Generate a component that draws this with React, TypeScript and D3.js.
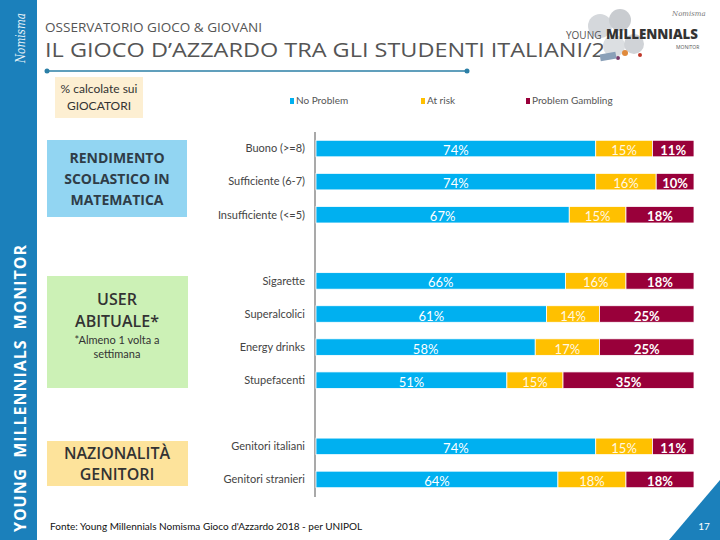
import React from "react";
import * as d3 from "d3";

const categories = [
  "Buono (>=8)",
  "Sufficiente (6-7)",
  "Insufficiente (<=5)",
  "_gap1",
  "Sigarette",
  "Superalcolici",
  "Energy drinks",
  "Stupefacenti",
  "_gap2",
  "Genitori italiani",
  "Genitori stranieri",
];
const noProblem = [74, 74, 67, 0, 66, 61, 58, 51, 0, 74, 64];
const atRisk = [15, 16, 15, 0, 16, 14, 17, 15, 0, 15, 18];
const problemGambling = [11, 10, 18, 0, 18, 25, 25, 35, 0, 11, 18];
const seriesNames = ["No Problem", "At risk", "Problem Gambling"];
const seriesColors = ["#00b0f0", "#ffc000", "#99003a"];

const W = 720;
const H = 540;
const FONT = "Lato, 'Open Sans', sans-serif";

export default function App() {
  const rows = categories.map((c, i) => ({
    cat: c,
    np: noProblem[i],
    ar: atRisk[i],
    pg: problemGambling[i],
  }));
  const keys = ["np", "ar", "pg"];
  const stack = d3.stack<any>().keys(keys).offset(d3.stackOffsetExpand);
  const stacked = stack(rows.filter((r) => !r.cat.startsWith("_")));

  const y = d3
    .scaleBand<string>()
    .domain(categories)
    .range([132, 496])
    .paddingInner(0.5)
    .paddingOuter(0.25);
  const x = d3.scaleLinear().domain([0, 1]).range([316, 694]);

  return (
    <svg
      width={W}
      height={H}
      style={{ position: "absolute", left: 0, top: 0, background: "#fff" }}
      fontFamily={FONT}
    >
      <rect x={0} y={0} width={W} height={H} fill="#fff" />
      {/* Sidebar */}
      <rect x={0} y={0} width={37} height={H} fill="#1b80bb" />
      <text
        transform="translate(26,532) rotate(-90)"
        fill="#fff"
        fontWeight={700}
        fontSize={16}
        textLength={287}
        lengthAdjust="spacing"
        fontFamily="'Open Sans', sans-serif"
      >
        {"YOUNG\u00a0\u00a0MILLENNIALS\u00a0\u00a0MONITOR"}
      </text>
      <text
        transform="translate(25,63) rotate(-90)"
        fill="#fff"
        fontStyle="italic"
        fontSize={13}
        fontFamily="'DejaVu Serif', serif"
        textLength={50}
        lengthAdjust="spacingAndGlyphs"
        opacity={0.9}
      >
        Nomisma
      </text>

      {/* Header */}
      <text x={45} y={32} fontSize={13} fill="#555" fontFamily="'Open Sans', sans-serif" textLength={217} lengthAdjust="spacingAndGlyphs">
        OSSERVATORIO GIOCO &amp; GIOVANI
      </text>
      <text
        x={45}
        y={57}
        fontSize={20}
        fill="#555"
        fontFamily="'Open Sans', sans-serif"
        textLength={560}
        lengthAdjust="spacingAndGlyphs"
      >
        IL GIOCO D’AZZARDO TRA GLI STUDENTI ITALIANI/2
      </text>
      <line x1={47} x2={467} y1={71} y2={71} stroke="#2b7fa6" strokeWidth={1.5} />
      <circle cx={47} cy={71} r={2.5} fill="#2b7fa6" />
      <circle cx={467} cy={71} r={2.5} fill="#2b7fa6" />

      {/* Logo */}
      <g>
        <circle cx={600} cy={26} r={12} fill="#d5d8dc" />
        <circle cx={620} cy={20} r={11} fill="#c9ccd0" />
        <circle cx={614} cy={46} r={11} fill="#dcdfe2" />
        <circle cx={634} cy={44} r={10} fill="#d0d3d7" />
        <circle cx={625} cy={53} r={3} fill="#e08a3c" />
        <circle cx={618} cy={58} r={2} fill="#7a3a6a" />
        <circle cx={640} cy={55} r={2} fill="#c0392b" />
        <rect x={600} y={53} width={16} height={7} fill="#8aa0b8" transform="rotate(-10 608 56)" />
        <text x={566} y={39} fontSize={10} fill="#555" fontFamily="'Open Sans', sans-serif">YOUNG</text>
        <text x={606} y={39} fontSize={14} fontWeight={800} fill="#333" fontFamily="'Open Sans', sans-serif" textLength={92} lengthAdjust="spacingAndGlyphs">MILLENNIALS</text>
        <text x={676} y={49} fontSize={5} fill="#555" fontFamily="'Open Sans', sans-serif">MONITOR</text>
        <text x={672} y={16} fontSize={7} fill="#777" fontStyle="italic" fontFamily="'DejaVu Serif', serif">Nomisma</text>
      </g>

      {/* % calcolate box */}
      <rect x={55} y={77} width={88} height={41} fill="#fdefd2" />
      <text x={99} y={93} textAnchor="middle" fontSize={12} fill="#333" fontFamily={FONT}>% calcolate sui</text>
      <text x={99} y={110} textAnchor="middle" fontSize={12} fill="#333" fontFamily={FONT}>GIOCATORI</text>

      {/* Legend */}
      {seriesNames.map((n, i) => {
        const lx = [290, 421, 526][i];
        return (
          <g key={n}>
            <rect x={lx} y={98} width={4} height={6} fill={seriesColors[i]} />
            <text x={lx + 6} y={104} fontSize={10} fill="#555" fontFamily={FONT}>
              {n}
            </text>
          </g>
        );
      })}

      {/* Left boxes */}
      <rect x={47} y={140} width={140} height={77} fill="#92d5f2" />
      {["RENDIMENTO", "SCOLASTICO IN", "MATEMATICA"].map((t, i) => (
        <text key={t} x={117} y={163 + i * 21} textAnchor="middle" fontSize={14} fontWeight={700} fill="#2f3d48" fontFamily="'Open Sans', sans-serif">
          {t}
        </text>
      ))}
      <rect x={47} y={276} width={141} height={112} fill="#ccf1b6" />
      <text x={117} y={305} textAnchor="middle" fontSize={16} fontWeight={600} fill="#333" fontFamily="'Open Sans', sans-serif">USER</text>
      <text x={117} y={327} textAnchor="middle" fontSize={16} fontWeight={600} fill="#333" fontFamily="'Open Sans', sans-serif">ABITUALE*</text>
      <text x={117} y={344} textAnchor="middle" fontSize={11} fill="#333" fontFamily={FONT}>*Almeno 1 volta a</text>
      <text x={117} y={358} textAnchor="middle" fontSize={11} fill="#333" fontFamily={FONT}>settimana</text>
      <rect x={47} y={441} width={141} height={45} fill="#fde39b" />
      <text x={117} y={459} textAnchor="middle" fontSize={16} fontWeight={600} fill="#333" fontFamily="'Open Sans', sans-serif">NAZIONALITÀ</text>
      <text x={117} y={480} textAnchor="middle" fontSize={16} fontWeight={600} fill="#333" fontFamily="'Open Sans', sans-serif">GENITORI</text>

      {/* Axis line */}
      <line x1={315} x2={315} y1={132} y2={497} stroke="#8c8c8c" strokeWidth={1.5} />

      {/* Category labels */}
      {categories
        .filter((c) => !c.startsWith("_"))
        .map((c) => (
          <text
            key={c}
            x={305}
            y={(y(c) as number) + y.bandwidth() / 2}
            dy="0.35em"
            textAnchor="end"
            fontSize={11}
            fill="#444"
            fontFamily={FONT}
          >
            {c}
          </text>
        ))}

      {/* Bars */}
      {stacked.map((layer, li) => (
        <g key={layer.key}>
          {layer.map((d: any) => {
            const yy = y(d.data.cat) as number;
            const x0 = x(d[0]);
            const x1 = x(d[1]);
            const val = d.data[layer.key];
            return (
              <g key={d.data.cat}>
                <rect
                  x={x0}
                  y={yy}
                  width={x1 - x0}
                  height={y.bandwidth()}
                  fill={seriesColors[li]}
                  stroke="#fff"
                  strokeWidth={0.8}
                />
                <text
                  x={(x0 + x1) / 2}
                  y={yy + y.bandwidth() / 2 + 2}
                  dy="0.35em"
                  textAnchor="middle"
                  fontSize={13}
                  fontWeight={li === 2 ? 700 : 400}
                  fill={li === 1 ? "#fff8e6" : "#fff"}
                  fontFamily={FONT}
                >
                  {val}%
                </text>
              </g>
            );
          })}
        </g>
      ))}

      {/* Footer */}
      <text x={50} y={530} fontSize={10} fill="#111" fontFamily={FONT}>
        Fonte: Young Millennials Nomisma Gioco d'Azzardo 2018 - per UNIPOL
      </text>
      <path d="M720,480 L720,540 L669,540 Z" fill="#1b80bb" />
      <text x={704} y={530} fontSize={10} fill="#fff" textAnchor="middle" fontFamily={FONT}>17</text>
    </svg>
  );
}
